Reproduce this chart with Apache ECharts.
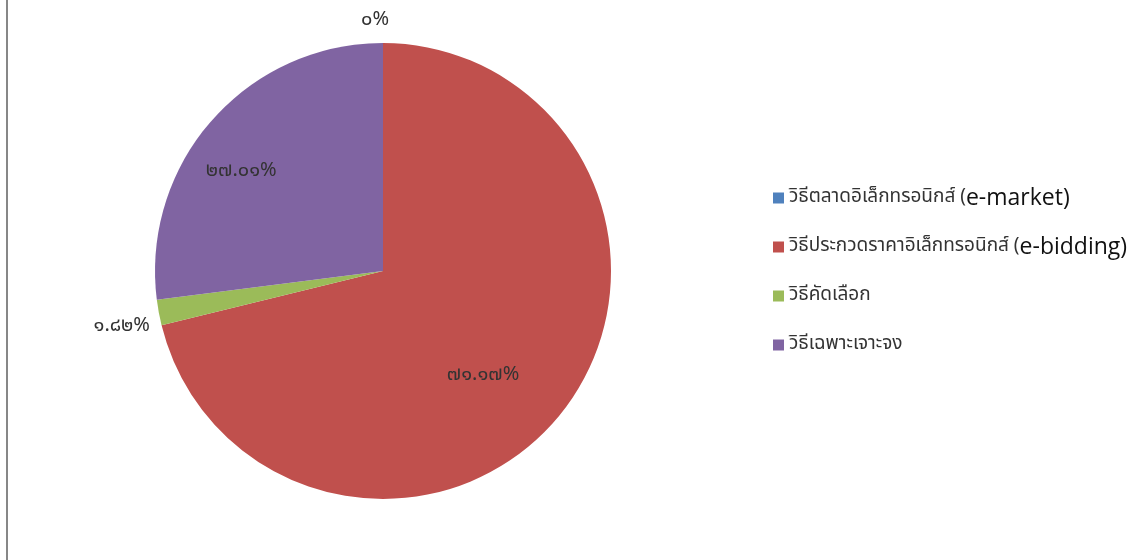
<!DOCTYPE html>
<html>
<head>
<meta charset="utf-8">
<script src="https://cdn.jsdelivr.net/npm/echarts@6/dist/echarts.min.js"></script>
<style>
html,body{margin:0;padding:0;background:#fff;}
#c{width:1147px;height:560px;}
</style>
</head>
<body>
<div id="c"></div>
<script>
const categories = [
  'วิธีตลาดอิเล็กทรอนิกส์ (e-market)',
  'วิธีประกวดราคาอิเล็กทรอนิกส์ (e-bidding)',
  'วิธีคัดเลือก',
  'วิธีเฉพาะเจาะจง'
];
const values = [0, 71.17, 1.82, 27.01];
const colors = ['#4F81BD', '#C0504D', '#9BBB59', '#8064A2'];

const thaiDigits = '๐๑๒๓๔๕๖๗๘๙';
function toThai(s) {
  return String(s).replace(/[0-9]/g, d => thaiDigits[+d]);
}

const labelStyles = [
  {position: 'outside', offset: [17, -12]},
  {position: 'inside', offset: [8, 33]},
  {position: 'outside', offset: [12, 13]},
  {position: 'inside', offset: [-54, -22]}
];

const FONT = "Tahoma, 'Noto Sans Thai', 'Noto Sans', sans-serif";

const chart = echarts.init(document.getElementById('c'));
chart.setOption({
  animation: false,
  color: colors,
  graphic: [{
    type: 'rect',
    shape: {x: 6, y: 0, width: 2, height: 560},
    style: {fill: '#878787'}
  }],
  legend: {
    orient: 'vertical',
    left: 768,
    top: 181,
    itemWidth: 11,
    itemHeight: 11,
    itemGap: 25,
    icon: 'rect',
    data: categories,
    formatter: function (name) {
      const i = name.indexOf(' (');
      if (i < 0) return '{th|' + name + '}';
      return '{th|' + name.slice(0, i + 2) + '}{en|' + name.slice(i + 2) + '}';
    },
    textStyle: {
      rich: {
        th: {fontFamily: FONT, fontSize: 19, color: '#333', lineHeight: 24, height: 24},
        en: {fontFamily: "'Open Sans', 'DejaVu Sans', sans-serif", fontSize: 23, color: '#111', lineHeight: 24, height: 24}
      }
    }
  },
  series: [{
    type: 'pie',
    center: [383, 271],
    radius: [0, 228],
    startAngle: 90,
    clockwise: true,
    avoidLabelOverlap: false,
    minShowLabelAngle: 0,
    label: {
      fontFamily: FONT,
      fontSize: 20,
      color: '#333',
      formatter: p => toThai(p.value) + '%'
    },
    labelLine: {show: false, length: 10, length2: 6},
    emphasis: {disabled: true},
    data: categories.map((n, i) => ({
      name: n,
      value: values[i],
      label: labelStyles[i]
    }))
  }]
});
</script>
</body>
</html>
